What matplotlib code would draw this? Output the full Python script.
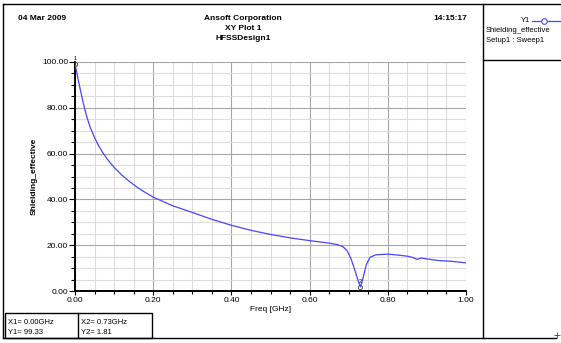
import matplotlib
matplotlib.use("Agg")
import matplotlib.pyplot as plt
from matplotlib.lines import Line2D
from matplotlib.patches import Rectangle
from matplotlib.ticker import MultipleLocator, FormatStrFormatter

plt.rcParams['font.family'] = ['Liberation Sans', 'DejaVu Sans']

# Shielding effectiveness sweep (Setup1 : Sweep1)
freq = [0.000, 0.005, 0.010, 0.015, 0.020, 0.025, 0.030, 0.035, 0.040,
        0.050, 0.060, 0.070, 0.080, 0.090, 0.100, 0.120, 0.140, 0.160,
        0.180, 0.200, 0.25, 0.30, 0.35, 0.40, 0.45, 0.50, 0.55, 0.60,
        0.65, 0.67, 0.685, 0.695, 0.705, 0.715, 0.725, 0.73, 0.735,
        0.745, 0.755, 0.77, 0.80, 0.82, 0.85, 0.865, 0.875, 0.885,
        0.90, 0.93, 0.96, 1.00]
shielding = [99.33, 95.0, 90.8, 86.8, 83.0, 79.4, 76.2, 73.5, 71.0,
             67.0, 63.6, 60.7, 58.2, 56.0, 54.0, 50.6, 47.7, 45.2,
             43.0, 41.0, 37.2, 34.3, 31.3, 28.7, 26.5, 24.7, 23.2, 22.0,
             20.9, 20.3, 19.4, 17.8, 14.5, 9.5, 4.0, 1.81, 4.5,
             11.5, 14.8, 15.8, 16.1, 15.8, 15.2, 14.6, 13.8, 14.4,
             14.0, 13.3, 13.0, 12.3]

# cursor readouts
cursor_x = [0.00, 0.73]
cursor_y = [99.33, 1.81]
cursor_names = ["1", "2"]

W, H = 561, 343
fig = plt.figure(figsize=(W / 100, H / 100), dpi=100)


def fp(x, y):
    # pixel position (from top-left) -> figure fraction
    return x / W, 1 - y / H


def fline(x0, y0, x1, y1, lw=1.0, color="black"):
    a, b = fp(x0, y0)
    c, d = fp(x1, y1)
    fig.add_artist(Line2D([a, c], [b, d], transform=fig.transFigure,
                          color=color, lw=lw))


ax_l, ax_b = fp(75, 291)
ax_r, ax_t = fp(466, 62)
ax = fig.add_axes([ax_l, ax_b, ax_r - ax_l, ax_t - ax_b])

blue = "#4646ff"
ax.plot(freq, shielding, color=blue, lw=0.9, zorder=3)
ax.plot(cursor_x, cursor_y, "o", mfc="none", mec="#555555", ms=3, mew=0.7,
        zorder=4)
for cx, cy, name in zip(cursor_x, cursor_y, cursor_names):
    ax.text(cx, cy + 1.2, name, fontsize=4, ha="center", va="bottom",
            zorder=5, clip_on=False)

ax.set_xlim(0, 1)
ax.set_ylim(0, 100)
ax.xaxis.set_major_locator(MultipleLocator(0.2))
ax.xaxis.set_minor_locator(MultipleLocator(0.05))
ax.yaxis.set_major_locator(MultipleLocator(20))
ax.yaxis.set_minor_locator(MultipleLocator(5))
ax.xaxis.set_major_formatter(FormatStrFormatter("%.2f"))
ax.yaxis.set_major_formatter(FormatStrFormatter("%.2f"))

ax.grid(which="major", color="#a6a6a6", lw=0.8)
ax.grid(which="minor", color="#dcdcdc", lw=0.8)
ax.set_axisbelow(True)

for s in ("top", "right"):
    ax.spines[s].set_visible(False)
for s in ("left", "bottom"):
    ax.spines[s].set_linewidth(1.4)

ax.tick_params(which="both", labelsize=6, colors="black", width=0.8)
ax.tick_params(axis="y", which="major", length=4, pad=1)
ax.tick_params(axis="y", which="minor", length=3)
ax.tick_params(axis="x", which="major", length=3, pad=1)
ax.tick_params(axis="x", which="minor", length=2)

ax.set_xlabel("Freq [GHz]", fontsize=6, labelpad=2)
ax.set_ylabel("Shielding_effective", fontsize=6, fontweight="bold",
              labelpad=3)

# header
fig.text(*fp(18, 19), "04 Mar 2009", fontsize=6, fontweight="bold",
         ha="left", va="center")
fig.text(*fp(467, 19), "14:15:17", fontsize=6, fontweight="bold",
         ha="right", va="center")
fig.text(*fp(243, 19), "Ansoft Corporation", fontsize=6, fontweight="bold",
         ha="center", va="center")
fig.text(*fp(243, 29), "XY Plot 1", fontsize=6, fontweight="bold",
         ha="center", va="center")
fig.text(*fp(243, 39), "HFSSDesign1", fontsize=6, fontweight="bold",
         ha="center", va="center")

# frame and legend panel
fline(3, 4, 561, 4)
fline(3, 4, 3, 338)
fline(3, 338, 556, 338)
fline(483, 4, 483, 338)
fline(483, 60, 561, 60)

fig.text(*fp(530, 21), "Y1", fontsize=5.5, ha="right", va="center")
lx0, ly = fp(532, 21)
lx1, _ = fp(561, 21)
fig.add_artist(Line2D([lx0, lx1], [ly, ly], transform=fig.transFigure,
                      color=blue, lw=0.9))
mx, _ = fp(544, 21)
fig.add_artist(Line2D([mx], [ly], transform=fig.transFigure, marker="o",
                      ms=4, mfc="white", mec=blue, mew=0.8))
fig.text(*fp(486, 31), "Shielding_effective", fontsize=5.5, ha="left",
         va="center")
fig.text(*fp(486, 40), "Setup1 : Sweep1", fontsize=5.5, ha="left",
         va="center")

# cursor readout boxes
bx, by = fp(5, 338)
bw = 147 / W
bh = 25 / H
fig.add_artist(Rectangle((bx, by), bw, bh, transform=fig.transFigure,
                         fill=False, lw=1.0, ec="black"))
fline(78, 313, 78, 338)
fig.text(*fp(8, 322), "X1= 0.00GHz", fontsize=5.5, ha="left", va="center")
fig.text(*fp(8, 333), "Y1= 99.33", fontsize=5.5, ha="left", va="center")
fig.text(*fp(81, 322), "X2= 0.73GHz", fontsize=5.5, ha="left", va="center")
fig.text(*fp(81, 333), "Y2= 1.81", fontsize=5.5, ha="left", va="center")

fig.add_artist(Line2D([fp(557, 335)[0]], [fp(557, 335)[1]],
                      transform=fig.transFigure, marker="+", ms=4,
                      color="#444444", mew=0.6))

fig.savefig("out.png", dpi=100)
